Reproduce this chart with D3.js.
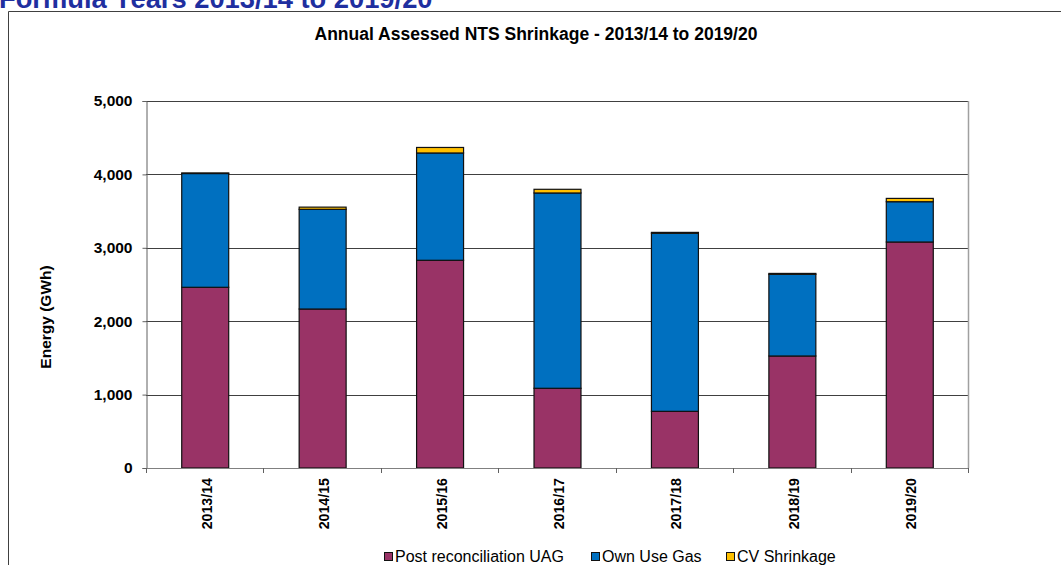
<!DOCTYPE html>
<html>
<head>
<meta charset="utf-8">
<script src="https://cdn.jsdelivr.net/npm/d3@7"></script>
<style>
  html, body { margin: 0; padding: 0; background: #fff; }
  svg { display: block; font-family: "Liberation Sans", Arial, sans-serif; }
</style>
</head>
<body>
<svg id="chart" width="1061" height="565"></svg>
<script>
// Formula years
const years = ["2013/14", "2014/15", "2015/16", "2016/17", "2017/18", "2018/19", "2019/20"];
// Energy components, GWh
const postReconciliationUAG = [2462, 2166, 2830, 1086, 772, 1526, 3079];
const ownUseGas = [1550, 1358, 1462, 2661, 2426, 1113, 549];
const cvShrinkage = [8, 30, 75, 50, 12, 12, 45];
const yTicks = [0, 1000, 2000, 3000, 4000, 5000];

const seriesNames = ["Post reconciliation UAG", "Own Use Gas", "CV Shrinkage"];
const seriesColors = ["#993366", "#0070C0", "#FFC000"];

const rows = years.map((y, i) => ({
  year: y,
  "Post reconciliation UAG": postReconciliationUAG[i],
  "Own Use Gas": ownUseGas[i],
  "CV Shrinkage": cvShrinkage[i]
}));
const stacked = d3.stack().keys(seriesNames)(rows);

const svg = d3.select("#chart");
const plot = { left: 146, right: 968, top: 101, bottom: 468 };

// Page heading, partly cut off at the top edge
svg.append("text")
  .attr("x", -1).attr("y", 8)
  .attr("font-size", 27.3).attr("font-weight", "bold")
  .attr("fill", "#1F2F9F")
  .text("Formula Years 2013/14 to 2019/20");

// Chart frame
svg.append("path")
  .attr("d", `M8.5,565 V11.5 H1061`)
  .attr("fill", "none").attr("stroke", "#404040").attr("stroke-width", 1);

// Chart title
svg.append("text")
  .attr("x", 536).attr("y", 40)
  .attr("text-anchor", "middle")
  .attr("font-size", 17.5).attr("font-weight", "bold")
  .attr("fill", "#000")
  .text("Annual Assessed NTS Shrinkage - 2013/14 to 2019/20");

const x = d3.scaleBand().domain(years)
  .range([plot.left, plot.right])
  .paddingInner(0.6).paddingOuter(0.3);
const y = d3.scaleLinear().domain([0, 5000]).range([plot.bottom, plot.top]);

// Gridlines
svg.append("g")
  .selectAll("line")
  .data(yTicks.filter(t => t > 0))
  .join("line")
  .attr("x1", plot.left).attr("x2", plot.right)
  .attr("y1", d => Math.round(y(d)) + 0.5).attr("y2", d => Math.round(y(d)) + 0.5)
  .attr("stroke", "#404040").attr("stroke-width", 1);

// Right edge of plot area
svg.append("line")
  .attr("x1", plot.right + 0.5).attr("x2", plot.right + 0.5)
  .attr("y1", plot.top).attr("y2", plot.bottom)
  .attr("stroke", "#a0a0a0").attr("stroke-width", 1.5);

// Stacked bars
svg.append("g")
  .selectAll("g")
  .data(stacked)
  .join("g")
  .attr("fill", (d, i) => seriesColors[i])
  .selectAll("rect")
  .data(d => d)
  .join("rect")
  .attr("x", d => x(d.data.year) + 0.5)
  .attr("y", d => y(d[1]))
  .attr("width", x.bandwidth())
  .attr("height", d => Math.max(0, y(d[0]) - y(d[1])))
  .attr("stroke", "#111").attr("stroke-width", 1.2);

// Y axis
const yAxis = d3.axisLeft(y).tickValues(yTicks).tickSize(4).tickPadding(10)
  .tickFormat(d3.format(","));
const gy = svg.append("g").attr("transform", `translate(${plot.left + 0.5},0)`).call(yAxis);
gy.select(".domain").attr("stroke", "#606060");
gy.selectAll(".tick line").attr("stroke", "#606060");
gy.selectAll(".tick text")
  .attr("font-size", 15.5).attr("font-weight", "bold").attr("fill", "#000")
  .attr("font-family", "'Liberation Sans', Arial, sans-serif");

// X axis: category boundary ticks
const boundaries = years.map(yr => x(yr) - x.step() * x.paddingInner() / 2).concat([plot.right]);
svg.append("line")
  .attr("x1", plot.left).attr("x2", plot.right)
  .attr("y1", plot.bottom + 0.5).attr("y2", plot.bottom + 0.5)
  .attr("stroke", "#808080");
svg.append("g").selectAll("line")
  .data(boundaries)
  .join("line")
  .attr("x1", d => Math.round(d) + 0.5).attr("x2", d => Math.round(d) + 0.5)
  .attr("y1", plot.bottom).attr("y2", plot.bottom + 5)
  .attr("stroke", "#606060");

// X category labels, rotated
svg.append("g").selectAll("text")
  .data(years)
  .join("text")
  .attr("transform", d => `translate(${x(d) + x.bandwidth() / 2 + 7},${plot.bottom + 10}) rotate(-90)`)
  .attr("text-anchor", "end")
  .attr("font-size", 14.2).attr("font-weight", "bold")
  .text(d => d);

// Y axis title
svg.append("text")
  .attr("transform", `translate(51,317) rotate(-90)`)
  .attr("text-anchor", "middle")
  .attr("font-size", 15.5).attr("font-weight", "bold")
  .text("Energy (GWh)");

// Legend
const legendX = [384, 591, 726];
const legend = svg.append("g").selectAll("g")
  .data(seriesNames)
  .join("g")
  .attr("transform", (d, i) => `translate(${legendX[i]},552)`);
legend.append("rect")
  .attr("x", 0.5).attr("y", 0.5).attr("width", 8).attr("height", 8)
  .attr("fill", (d, i) => seriesColors[i])
  .attr("stroke", "#111");
legend.append("text")
  .attr("x", 11).attr("y", 10)
  .attr("font-size", 16)
  .text(d => d);
</script>
</body>
</html>
